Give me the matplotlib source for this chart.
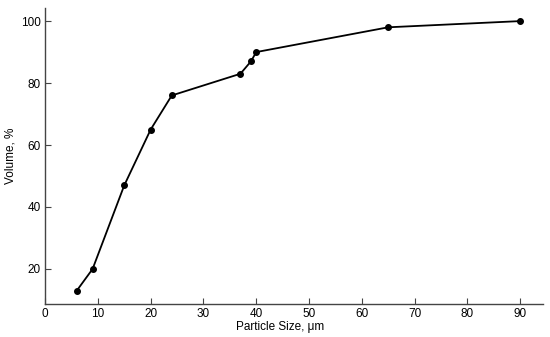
import matplotlib
matplotlib.use("Agg")
import matplotlib.pyplot as plt

plt.rcParams["font.family"] = ["Liberation Sans", "DejaVu Sans"]

particle_size = [6, 9, 15, 20, 24, 37, 39, 40, 65, 90]
volume = [13, 20, 47, 65, 76, 83, 87, 90, 98, 100]
x_ticks = [0, 10, 20, 30, 40, 50, 60, 70, 80, 90]
y_ticks = [20, 40, 60, 80, 100]

fig = plt.figure(figsize=(5.5, 3.37), dpi=100)
ax = fig.add_axes([0.082, 0.098, 0.905, 0.878])
ax.plot(particle_size, volume, color="black", marker="o", markersize=4, linewidth=1.3)
ax.set_xlim(0, 94.3)
ax.set_ylim(8.7, 104.2)
ax.set_xticks(x_ticks)
ax.set_yticks(y_ticks)
ax.spines["top"].set_visible(False)
ax.spines["right"].set_visible(False)
for s in ("left", "bottom"):
    ax.spines[s].set_color("#444444")
    ax.spines[s].set_linewidth(1.0)
ax.tick_params(direction="in", length=4, labelsize=8.5, color="#444444", pad=3)
ax.set_xlabel("Particle Size, μm", fontsize=8.5)
ax.set_ylabel("Volume, %", fontsize=8.5)
ax.xaxis.set_label_coords(0.472, -0.058)
ax.yaxis.set_label_coords(-0.058, 0.5)
fig.savefig("out.png", dpi=100)
